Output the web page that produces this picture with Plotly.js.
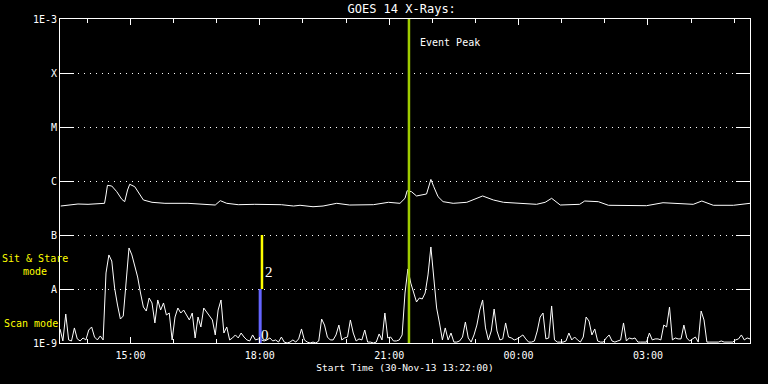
<!DOCTYPE html>
<html>
<head>
<meta charset="utf-8">
<script src="https://cdn.plot.ly/plotly-3.0.1.min.js"></script>
<style>html,body{margin:0;padding:0;background:#000;}#chart{width:768px;height:384px;}</style>
</head>
<body>
<div id="chart"></div>
<script>
// ---- DATA ----
// Long channel (1-8 A) flux, W/m^2
var longTimes = ['2013-11-30 13:23','2013-11-30 13:33','2013-11-30 13:47','2013-11-30 14:01','2013-11-30 14:20','2013-11-30 14:24','2013-11-30 14:26','2013-11-30 14:28','2013-11-30 14:34','2013-11-30 14:41','2013-11-30 14:48','2013-11-30 14:52','2013-11-30 14:56','2013-11-30 14:59','2013-11-30 15:06','2013-11-30 15:13','2013-11-30 15:18','2013-11-30 15:30','2013-11-30 15:48','2013-11-30 16:20','2013-11-30 16:39','2013-11-30 16:58','2013-11-30 17:05','2013-11-30 17:14','2013-11-30 17:30','2013-11-30 17:53','2013-11-30 18:30','2013-11-30 18:47','2013-11-30 18:56','2013-11-30 19:14','2013-11-30 19:28','2013-11-30 19:47','2013-11-30 20:05','2013-11-30 20:38','2013-11-30 20:59','2013-11-30 21:15','2013-11-30 21:22','2013-11-30 21:25','2013-11-30 21:31','2013-11-30 21:38','2013-11-30 21:52','2013-11-30 21:56','2013-11-30 21:58','2013-11-30 22:02','2013-11-30 22:08','2013-11-30 22:15','2013-11-30 22:29','2013-11-30 22:48','2013-11-30 23:10','2013-11-30 23:25','2013-11-30 23:39','2013-12-01 00:02','2013-12-01 00:16','2013-12-01 00:25','2013-12-01 00:37','2013-12-01 00:46','2013-12-01 00:58','2013-12-01 01:25','2013-12-01 01:32','2013-12-01 01:51','2013-12-01 02:05','2013-12-01 02:35','2013-12-01 02:58','2013-12-01 03:21','2013-12-01 03:45','2013-12-01 04:03','2013-12-01 04:15','2013-12-01 04:31','2013-12-01 04:59','2013-12-01 05:22'];
var longFlux = [3.44e-7,3.55e-7,3.75e-7,3.70e-7,3.75e-7,3.86e-7,5.51e-7,8.32e-7,8.08e-7,6.34e-7,4.58e-7,4.14e-7,6.81e-7,8.69e-7,7.84e-7,5.51e-7,4.45e-7,4.03e-7,3.86e-7,3.86e-7,3.70e-7,3.59e-7,4.32e-7,3.86e-7,3.64e-7,3.70e-7,3.64e-7,3.44e-7,3.55e-7,3.34e-7,3.44e-7,3.86e-7,3.59e-7,3.64e-7,4.03e-7,3.86e-7,4.78e-7,6.61e-7,6.34e-7,5.28e-7,5.75e-7,8.43e-7,1.07e-6,7.84e-7,5.12e-7,4.14e-7,3.86e-7,4.03e-7,5.28e-7,4.45e-7,4.03e-7,3.86e-7,3.75e-7,3.70e-7,4.03e-7,4.78e-7,3.59e-7,3.70e-7,4.26e-7,4.14e-7,3.55e-7,3.55e-7,3.49e-7,3.96e-7,3.86e-7,3.70e-7,4.26e-7,3.55e-7,3.55e-7,3.86e-7];

// Short channel (0.5-4 A) flux in units of 1e-9 W/m^2, one sample every 4 min from start
var shortStart = '2013-11-30 13:22';
var shortStepMin = 4;
var shortNano = [
1.82,1.09,3.44,1.14,1.09,1.90,1.19,1.09,1.24,1.14,
1.74,1.98,1.29,1.14,1.35,1.14,19.8,42.7,33.0,10.4,
5.05,2.78,3.16,15.3,57.5,42.7,25.6,16.7,8.43,4.64,
3.91,6.81,5.51,2.35,6.26,4.08,5.51,3.30,3.59,1.14,
3.03,4.45,3.59,4.08,3.30,2.67,3.59,1.24,3.03,1.98,
4.45,3.75,3.30,2.67,1.41,4.08,6.26,1.53,1.98,1.14,
1.24,1.41,1.24,1.53,1.29,1.14,1.09,1.41,1.14,1.19,
1.14,1.09,1.14,1.24,1.09,1.14,1.04,1.29,1.04,1.00,
1.04,1.14,1.04,1.19,1.82,1.14,1.04,1.00,1.04,1.00,
1.09,2.78,2.15,1.29,1.14,1.14,1.41,2.15,1.14,1.24,
1.29,2.67,1.53,1.09,1.19,1.14,1.74,1.04,1.04,1.00,
1.04,1.47,1.14,3.59,1.24,1.29,1.09,1.09,1.14,1.41,
8.43,23.5,12.9,8.80,5.75,6.81,6.54,8.43,18.2,60.0,
14.1,4.45,2.35,1.14,1.90,1.14,1.53,1.04,1.04,1.09,
1.29,2.45,1.24,1.04,1.41,2.15,4.08,6.26,1.90,1.14,
1.67,4.26,1.67,1.14,1.19,2.35,1.29,1.24,1.14,1.19,
1.29,1.41,1.19,1.04,1.04,1.09,1.67,3.03,3.59,1.19,
1.24,4.85,1.14,1.04,1.04,1.04,1.09,1.53,1.14,1.29,
1.14,1.04,1.29,3.03,2.55,1.41,1.82,1.09,1.04,1.04,
1.24,1.41,1.09,1.04,1.09,1.14,2.35,1.09,1.24,1.19,
1.24,1.04,1.04,1.04,1.04,1.53,1.14,1.19,1.19,1.14,
2.15,1.98,4.64,1.14,1.24,1.19,1.19,2.15,1.24,1.09,
1.19,1.29,1.04,3.91,2.67,1.04,1.04,1.04,1.04,1.04,
1.09,1.04,1.04,1.04,1.04,1.14,1.19,1.41,1.14,1.24,1.19];

var levelVals = [1e-9,1e-8,1e-7,1e-6,1e-5,1e-4,1e-3];
var levelText = ['1E-9','A','B','C','M','X','1E-3'];
var xRange = ['2013-11-30 13:22','2013-12-01 05:22'];
var eventPeakTime = '2013-11-30 21:27:30';
var scanTime = '2013-11-30 18:00:30';
var stareTime = '2013-11-30 18:03:00';
var titleText = 'GOES 14 X-Rays:';
var xTitle = 'Start Time (30-Nov-13 13:22:00)';

// ---- BUILD ----
function fmt(ms){ return new Date(ms).toISOString().slice(0,19).replace('T',' '); }
var t0 = Date.parse(shortStart.replace(' ','T')+':00Z');
var shortTimes = shortNano.map(function(v,i){ return fmt(t0 + i*shortStepMin*60000); });
var shortFlux = shortNano.map(function(v){ return v*1e-9; });

var mono = 'DejaVu Sans Mono, monospace';
var traces = [
  {x: longTimes, y: longFlux, type:'scatter', mode:'lines', line:{color:'#ffffff', width:1}, hoverinfo:'skip'},
  {x: shortTimes, y: shortFlux, type:'scatter', mode:'lines', line:{color:'#ffffff', width:1}, hoverinfo:'skip'},
  {x: [scanTime, scanTime], y: [levelVals[0], levelVals[1]], type:'scatter', mode:'lines', line:{color:'#6464ff', width:3}, hoverinfo:'skip'},
  {x: [stareTime, stareTime], y: [levelVals[1], levelVals[2]], type:'scatter', mode:'lines', line:{color:'#ffff00', width:2.5}, hoverinfo:'skip'},
  {x: [eventPeakTime, eventPeakTime], y: [levelVals[0], levelVals[6]], type:'scatter', mode:'lines', line:{color:'#9fcc00', width:2.5}, hoverinfo:'skip'}
];

var layout = {
  width: 768, height: 384,
  paper_bgcolor:'#000000', plot_bgcolor:'#000000',
  margin:{l:60, r:18, t:19, b:41},
  showlegend:false,
  font:{family: mono, color:'#ffffff', size:10},
  title:{text:titleText, font:{family:mono, size:12, color:'#ffffff'}, x:0.523, xref:'container', xanchor:'center', y:0.977, yref:'container', yanchor:'middle'},
  xaxis:{
    type:'date', range:xRange, showgrid:false, zeroline:false,
    showline:true, linecolor:'#ffffff', linewidth:1, mirror:'allticks',
    ticks:'inside', ticklen:6, tickwidth:1, tickcolor:'#ffffff',
    tickmode:'linear', tick0:'2013-11-30 00:00', dtick:3*3600000, tickformat:'%H:%M',
    ticklabelstandoff:3,
    minor:{ticks:'inside', ticklen:4, tickcolor:'#ffffff', tickwidth:1, dtick:3600000, tick0:'2013-11-30 00:00', showgrid:false},
    tickfont:{family:mono, size:10, color:'#ffffff'},
    title:{text:xTitle, font:{family:mono, size:9.5, color:'#ffffff'}, standoff:4}
  },
  yaxis:{
    type:'log', range:[-9,-3], zeroline:false,
    showline:true, linecolor:'#ffffff', linewidth:1, mirror:'allticks',
    ticks:'inside', ticklen:14, tickwidth:1, tickcolor:'#ffffff',
    tickmode:'array', tickvals:levelVals, ticktext:levelText,
    showgrid:true, gridcolor:'#ffffff', gridwidth:1, griddash:'1px,5px',
    tickfont:{family:mono, size:10, color:'#ffffff'}
  },
  annotations:[
    {xref:'x', yref:'paper', x:eventPeakTime, y:0.926, text:'Event Peak', showarrow:false, xanchor:'left', yanchor:'middle', xshift:9, font:{family:mono, size:10, color:'#ffffff'}},
    {xref:'paper', yref:'paper', x:-0.036, y:0.240, text:'Sit & Stare<br>mode', showarrow:false, xanchor:'center', yanchor:'middle', align:'center', font:{family:mono, size:10, color:'#ffff00'}},
    {xref:'paper', yref:'paper', x:-0.084, y:0.060, text:'Scan mode', showarrow:false, xanchor:'left', yanchor:'middle', font:{family:mono, size:10, color:'#ffff00'}},
    {xref:'x', yref:'y', x:stareTime, y:-7.685, text:'2', showarrow:false, xanchor:'left', yanchor:'middle', xshift:1, font:{family:'Liberation Serif, serif', size:15, color:'#ffffff'}},
    {xref:'x', yref:'y', x:scanTime, y:-8.85, text:'0', showarrow:false, xanchor:'left', yanchor:'middle', xshift:-1, font:{family:'Liberation Serif, serif', size:15, color:'#ffffff'}}
  ]
};

Plotly.newPlot('chart', traces, layout, {staticPlot:true, displayModeBar:false});
</script>
</body>
</html>
